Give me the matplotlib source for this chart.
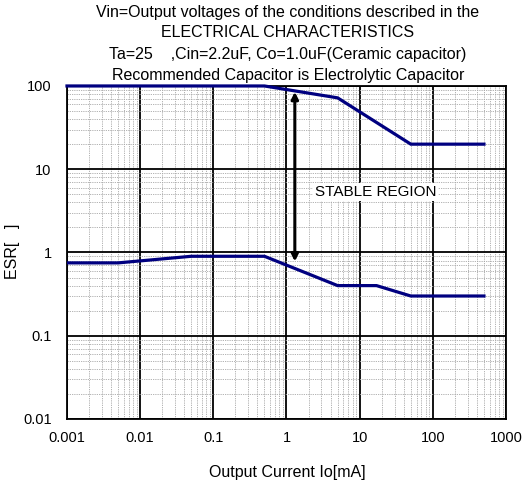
import matplotlib
matplotlib.use("Agg")
import matplotlib.pyplot as plt
from matplotlib.ticker import LogLocator, FixedLocator, FixedFormatter, NullFormatter

plt.rcParams["font.family"] = ["Liberation Sans", "DejaVu Sans"]
plt.rcParams["font.size"] = 10

# upper stability limit
upper_x = [0.001, 0.5, 5, 50, 500]
upper_y = [100, 100, 72, 20, 20]

# lower stability limit
lower_x = [0.001, 0.005, 0.05, 0.5, 5, 17, 50, 500]
lower_y = [0.75, 0.75, 0.9, 0.9, 0.4, 0.4, 0.3, 0.3]

arrow_x = 1.3
arrow_top = 85
arrow_bottom = 0.78

x_ticks = [0.001, 0.01, 0.1, 1, 10, 100, 1000]
x_labels = ["0.001", "0.01", "0.1", "1", "10", "100", "1000"]
y_ticks = [0.01, 0.1, 1, 10, 100]
y_labels = ["0.01", "0.1", "1", "10", "100"]

title_lines = [
    "Vin=Output voltages of the conditions described in the",
    "ELECTRICAL CHARACTERISTICS",
    "Ta=25    ,Cin=2.2uF, Co=1.0uF(Ceramic capacitor)",
    "Recommended Capacitor is Electrolytic Capacitor",
]

fig = plt.figure(figsize=(5.30, 4.86), dpi=100)
ax = fig.add_axes([0.1264, 0.1379, 0.8283, 0.6852])

ax.set_xscale("log")
ax.set_yscale("log")
ax.set_xlim(0.001, 1000)
ax.set_ylim(0.01, 100)

ax.xaxis.set_major_locator(FixedLocator(x_ticks))
ax.xaxis.set_major_formatter(FixedFormatter(x_labels))
ax.yaxis.set_major_locator(FixedLocator(y_ticks))
ax.yaxis.set_major_formatter(FixedFormatter(y_labels))
ax.xaxis.set_minor_locator(LogLocator(base=10, subs=range(2, 10), numticks=20))
ax.yaxis.set_minor_locator(LogLocator(base=10, subs=range(2, 10), numticks=20))
ax.xaxis.set_minor_formatter(NullFormatter())
ax.yaxis.set_minor_formatter(NullFormatter())
ax.tick_params(which="both", length=0)
ax.tick_params(axis="x", pad=9, labelsize=10.5)
ax.tick_params(axis="y", pad=11, labelsize=10.5)

ax.grid(True, which="minor", color="#a8a8a8", ls=(0, (1.5, 1.2)), lw=0.6)
ax.grid(True, which="major", color="black", ls="-", lw=1.3)
ax.set_axisbelow(True)
for sp in ax.spines.values():
    sp.set_linewidth(1.3)

ax.plot(upper_x, upper_y, color="#000080", lw=2.3, solid_joinstyle="miter", clip_on=False, zorder=4)
ax.plot(lower_x, lower_y, color="#000080", lw=2.3, solid_joinstyle="miter", zorder=4)

ax.annotate("", xy=(arrow_x, arrow_top), xytext=(arrow_x, arrow_bottom),
            arrowprops=dict(arrowstyle="<|-|>", color="black", lw=2.2,
                            mutation_scale=10, shrinkA=0, shrinkB=0), zorder=5)

ax.text(16.5, 5.3, "STABLE REGION", ha="center", va="center", fontsize=11,
        bbox=dict(facecolor="white", edgecolor="none", pad=1.5), zorder=5)

fig.text(0.543, 0.027, "Output Current Io[mA]", ha="center", va="center", fontsize=11.5)
fig.text(0.024, 0.482, "ESR[   ]", ha="center", va="center", rotation=90, fontsize=11.5)

title_y = [0.975, 0.934, 0.887, 0.844]
for line, yy in zip(title_lines, title_y):
    fig.text(0.543, yy, line, ha="center", va="center", fontsize=11.5)

fig.savefig("out.png", dpi=100)
